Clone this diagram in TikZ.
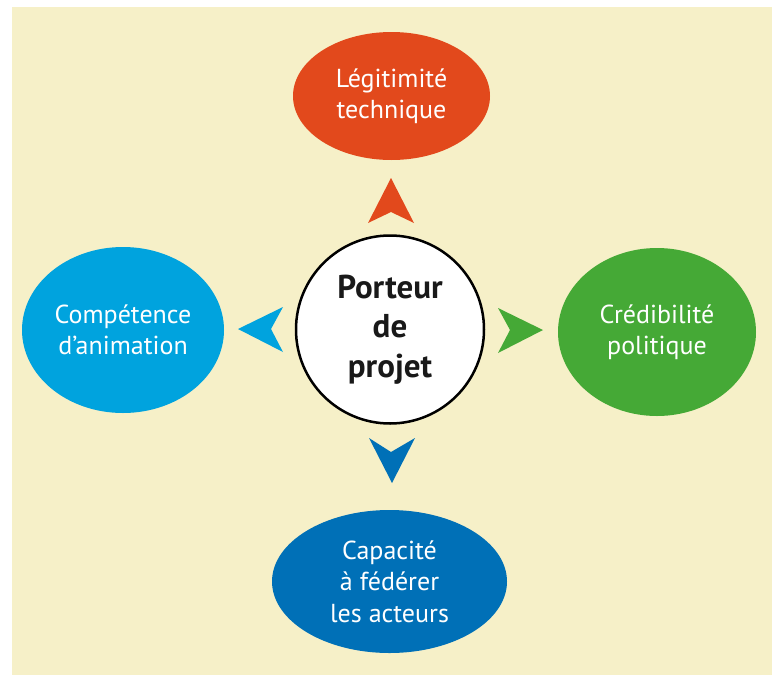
\documentclass[tikz,border=0pt]{standalone}
\usepackage{fontspec}
\setmainfont{PT Sans}
\usetikzlibrary{shapes.geometric}
\definecolor{bgc}{HTML}{F6F0C8}
\definecolor{redc}{HTML}{E2491C}
\definecolor{cyanc}{HTML}{00A3DE}
\definecolor{greenc}{HTML}{45A936}
\definecolor{bluec}{HTML}{0070B7}
\begin{document}
\begin{tikzpicture}[x=1pt,y=-1pt,
  bubble/.style={ellipse, inner sep=0pt, text=white, align=center,
    font=\fontsize{26}{31.5}\selectfont},
  center/.style={circle, draw=black, line width=2.5pt, fill=white, inner sep=0pt,
    minimum size=188pt, align=center, text=black!90,
    font=\bfseries\fontsize{33}{39.5}\selectfont}]
\useasboundingbox (0,0) rectangle (777,675);
\fill[bgc] (12,7) rectangle (772,675);
\node[bubble, fill=redc, minimum width=197pt, minimum height=128pt] (tech) at (391.5,96) {Légitimité\\technique};
\node[bubble, fill=cyanc, minimum width=202pt, minimum height=166pt] (anim) at (123,330) {Compétence\\d’animation};
\node[bubble, fill=greenc, minimum width=198pt, minimum height=168pt] (poli) at (657,332) {Crédibilité\\politique};
\node[bubble, fill=bluec, minimum width=235pt, minimum height=143pt] (fede) at (389.5,581.5) {Capacité\\à fédérer\\les acteurs};
\node[center] (port) at (390,329.5) {Porteur\\de\\projet};
% arrowheads
\fill[redc] (391,178) -- (414,223) -- (391,212) -- (368,223) -- cycle;
\fill[cyanc] (238,329) -- (283,307) -- (271,329) -- (283,352) -- cycle;
\fill[greenc] (543,330) -- (498,308) -- (510,330) -- (498,353) -- cycle;
\fill[bluec] (392,483) -- (369,438) -- (391,452) -- (415,438) -- cycle;
\end{tikzpicture}
\end{document}
